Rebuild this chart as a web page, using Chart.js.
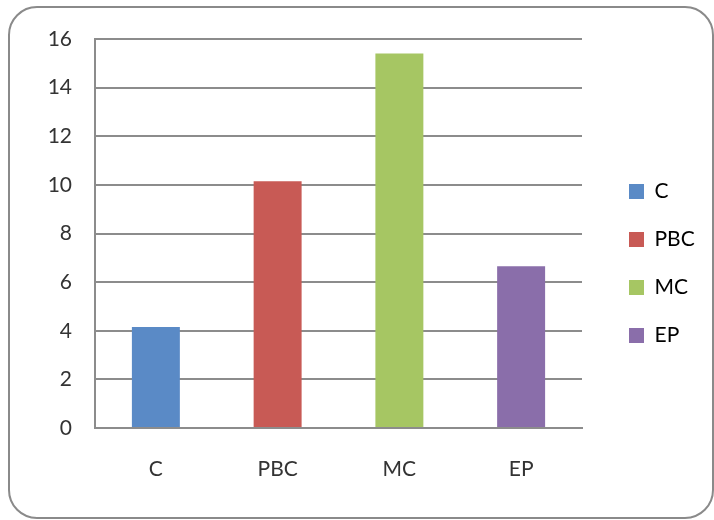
<!DOCTYPE html>
<html>
<head>
<meta charset="utf-8">
<script src="https://cdn.jsdelivr.net/npm/chart.js@4"></script>
<style>
  html, body { margin: 0; padding: 0; background: #fff; }
  #wrap { position: relative; width: 714px; height: 520px; }
</style>
</head>
<body>
<div id="wrap"><canvas id="barChart" width="714" height="520"></canvas></div>
<script>
// waarden
const categories = ["C", "PBC", "MC", "EP"];
const values = [4.15, 10.15, 15.4, 6.65];
const barColors = ["#5a8ac6", "#c85a55", "#a6c663", "#8a6eaa"];
const yTicks = [0, 2, 4, 6, 8, 10, 12, 14, 16];

const GRID = "#8c8c8c";
const FONT = "Lato, 'Open Sans', sans-serif";

// afgeronde rand rond de hele grafiek
const frame = {
    id: "frame",
    beforeDraw(chart) {
        const c = chart.ctx;
        c.save();
        c.strokeStyle = "#8a8a8a";
        c.lineWidth = 2;
        c.beginPath();
        c.roundRect(9, 7, 704, 511, 28);
        c.stroke();
        c.restore();
    }
};

// legenda breder maken en wat naar rechts/boven schuiven
const legendSpace = {
    id: "legendSpace",
    beforeInit(chart) {
        const origFit = chart.legend.fit;
        chart.legend.fit = function () {
            origFit.call(this);
            this.width = 122;
        };
    },
    afterLayout(chart) {
        const lg = chart.legend;
        lg.left += 20;
        lg.right += 20;
        lg.top -= 11;
        lg.bottom -= 11;
    }
};

new Chart(document.getElementById("barChart"), {
    type: "bar",
    data: {
        labels: categories,
        datasets: [{
            data: values,
            backgroundColor: barColors,
            borderWidth: 0,
            barPercentage: 0.394,
            categoryPercentage: 1
        }]
    },
    options: {
        responsive: false,
        animation: false,
        layout: {padding: {left: 20, top: 39, right: 10, bottom: 10}},
        plugins: {
            tooltip: {enabled: false},
            legend: {
                position: "right",
                align: "center",
                labels: {
                    boxWidth: 15,
                    boxHeight: 15,
                    padding: 27,
                    color: "#333",
                    font: {family: FONT, size: 21},
                    generateLabels: () => categories.map((c, i) => ({
                        text: c,
                        fillStyle: barColors[i],
                        strokeStyle: barColors[i],
                        lineWidth: 0,
                        index: i
                    }))
                }
            }
        },
        scales: {
            x: {
                grid: {display: false, drawTicks: false},
                border: {display: true, color: GRID, width: 2},
                ticks: {color: "#333", padding: 29, font: {family: FONT, size: 21}},
                afterFit(scale) { scale.height = 82; }
            },
            y: {
                min: 0,
                max: 16,
                afterBuildTicks(scale) { scale.ticks = yTicks.map(v => ({value: v})); },
                grid: {color: GRID, lineWidth: 2, drawTicks: false},
                border: {display: true, color: GRID, width: 2},
                ticks: {color: "#333", padding: 23, font: {family: FONT, size: 21}},
                afterFit(scale) { scale.width = 75; }
            }
        }
    },
    plugins: [frame, legendSpace]
});
</script>
</body>
</html>
